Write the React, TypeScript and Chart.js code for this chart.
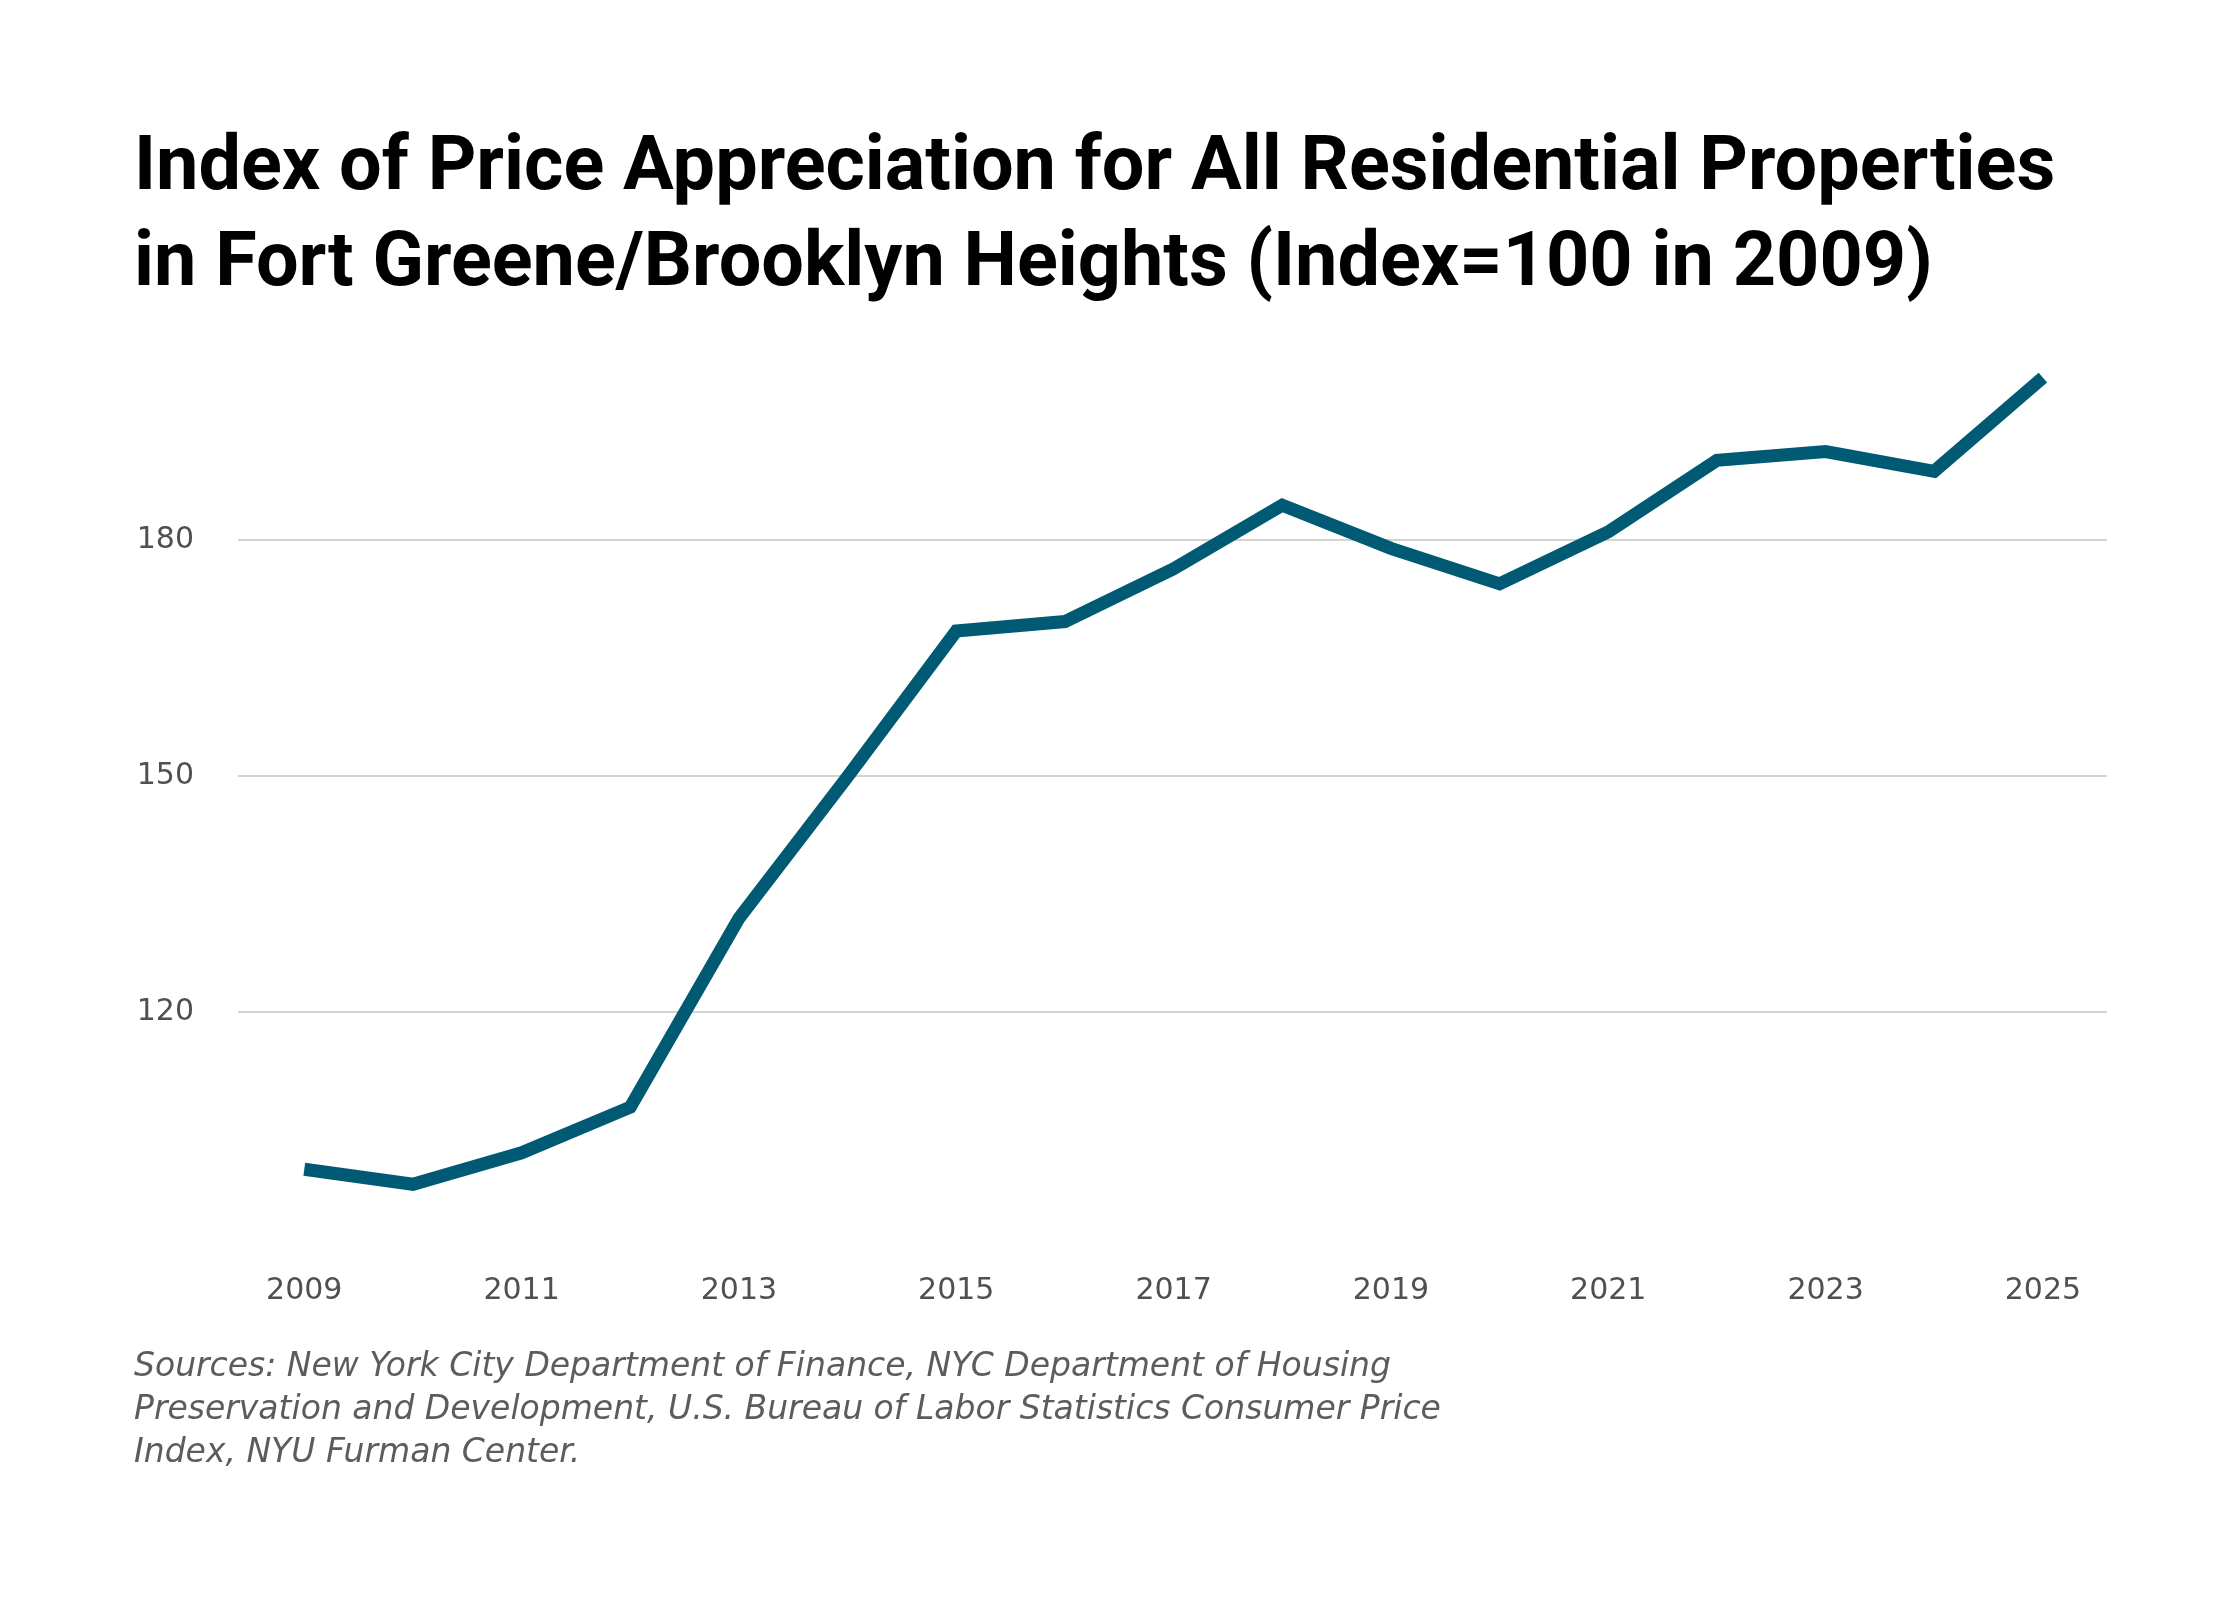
import React, { useEffect, useRef } from "react";
import { Chart, registerables } from "chart.js";

Chart.register(...registerables);

const years = [2009, 2010, 2011, 2012, 2013, 2014, 2015, 2016, 2017, 2018, 2019, 2020, 2021, 2022, 2023, 2024, 2025];
const indexValues = [100.0, 98.1, 102.1, 107.9, 131.9, 149.9, 168.4, 169.6, 176.3, 184.4, 178.9, 174.4, 181.0, 190.1, 191.2, 188.7, 200.6];
const xTickYears = [2009, 2011, 2013, 2015, 2017, 2019, 2021, 2023, 2025];
const yTickValues = [120, 150, 180];
const titleLines = [
  "Index of Price Appreciation for All Residential Properties",
  "in Fort Greene/Brooklyn Heights (Index=100 in 2009)",
];
const sourceLines = [
  "Sources: New York City Department of Finance, NYC Department of Housing",
  "Preservation and Development, U.S. Bureau of Labor Statistics Consumer Price",
  "Index, NYU Furman Center.",
];

export default function App() {
  const ref = useRef<HTMLCanvasElement | null>(null);

  useEffect(() => {
    if (!ref.current) return;
    const chart = new Chart(ref.current, {
      type: "line",
      data: {
        datasets: [
          {
            data: years.map((y, i) => ({ x: y, y: indexValues[i] })),
            borderColor: "#015a73",
            borderWidth: 13,
            pointRadius: 0,
            pointHoverRadius: 0,
            tension: 0,
            borderJoinStyle: "miter",
            borderCapStyle: "butt",
            fill: false,
            clip: false as any,
          },
        ],
      },
      options: {
        animation: false,
        responsive: false,
        devicePixelRatio: 1,
        events: [],
        layout: { padding: { left: 134, right: 133, top: 0, bottom: 0 } },
        plugins: {
          legend: { display: false },
          tooltip: { enabled: false },
          title: {
            display: true,
            text: titleLines,
            align: "start",
            color: "#000000",
            font: { family: 'Roboto, sans-serif', size: 75.6, weight: "bold", lineHeight: 96 / 75.6 },
            padding: { top: 122, bottom: 29 },
          },
          subtitle: {
            display: true,
            position: "bottom",
            text: sourceLines,
            align: "start",
            color: "#5c5c5c",
            font: { family: '"DejaVu Sans", sans-serif', size: 33, style: "italic", weight: "normal", lineHeight: 43 / 33 },
            padding: { top: 18, bottom: 125 },
          },
        },
        scales: {
          x: {
            type: "linear",
            min: 2008.39,
            max: 2025.59,
            grid: { display: false, drawTicks: false },
            border: { display: false },
            ticks: {
              color: "#505050",
              font: { family: '"DejaVu Sans", sans-serif', size: 30 },
              padding: 25,
              maxRotation: 0,
              autoSkip: false,
              callback: (v: any) => String(v),
            },
            afterBuildTicks: (scale: any) => {
              scale.ticks = xTickYears.map((v) => ({ value: v }));
            },
            afterFit: (scale: any) => {
              scale.height = 80;
            },
          },
          y: {
            type: "linear",
            min: 90,
            max: 205,
            grid: { color: "#d3d3d3", lineWidth: 2, drawTicks: false },
            border: { display: false },
            ticks: {
              color: "#505050",
              font: { family: '"DejaVu Sans", sans-serif', size: 30 },
              padding: 44,
              callback: (v: any) => String(v),
            },
            afterBuildTicks: (scale: any) => {
              scale.ticks = yTickValues.map((v) => ({ value: v }));
            },
            afterFit: (scale: any) => {
              scale.width = 104;
            },
          },
        },
      },
    });
    return () => chart.destroy();
  }, []);

  return (
    <div style={{ position: "fixed", left: 0, top: 0, width: 2240, height: 1600, background: "#ffffff" }}>
      <canvas ref={ref} width={2240} height={1600} style={{ width: 2240, height: 1600, display: "block" }} />
    </div>
  );
}
